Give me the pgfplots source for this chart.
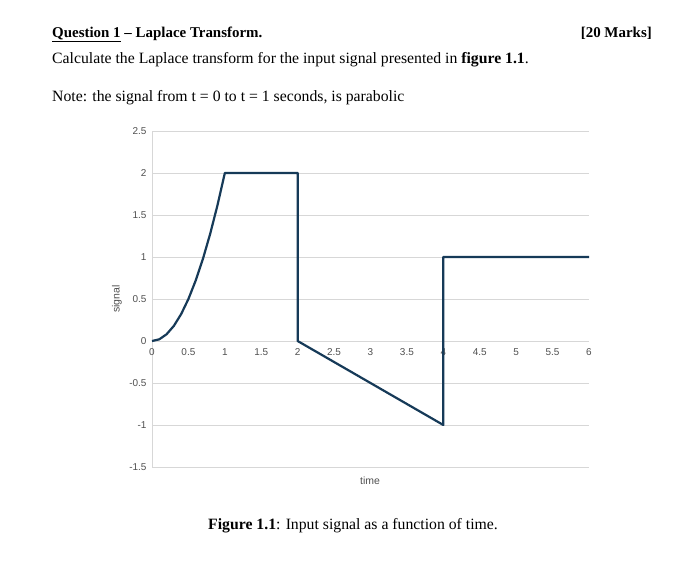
\documentclass[border=0pt]{standalone}
\usepackage{fontspec}
\setmainfont{Liberation Serif}
\newfontfamily\axisfont{Liberation Sans}
\usepackage{pgfplots}
\pgfplotsset{compat=1.18}
\definecolor{sigline}{RGB}{22,58,88}
\definecolor{gridgray}{RGB}{215,215,215}
\definecolor{ticktext}{RGB}{80,80,80}
\begin{document}
\begin{tikzpicture}
\fill[white] (0bp,0bp) rectangle (700bp,-585bp);
% header texts
\node[anchor=base west,inner sep=0pt,font=\fontsize{15}{18}\selectfont\bfseries] at (52bp,-37bp) {\underline{Question 1} -- Laplace Transform.};
\node[anchor=base east,inner sep=0pt,font=\fontsize{15}{18}\selectfont\bfseries] at (652bp,-37bp) {[20 Marks]};
\node[anchor=base west,inner sep=0pt,font=\fontsize{15.8}{19}\selectfont] at (52bp,-63bp) {Calculate the Laplace transform for the input signal presented in \textbf{figure 1.1}.};
\node[anchor=base west,inner sep=0pt,font=\fontsize{15.8}{19}\selectfont] at (52bp,-101bp) {Note: the signal from t = 0 to t = 1 seconds, is parabolic};
\node[anchor=base,inner sep=0pt,font=\fontsize{15.8}{19}\selectfont] at (353bp,-529bp) {\textbf{Figure 1.1}: Input signal as a function of time.};
% axis labels
\node[rotate=90,inner sep=0pt,font=\axisfont\fontsize{10.5}{12}\selectfont,text=ticktext] at (117bp,-299bp) {signal};
\node[inner sep=0pt,font=\axisfont\fontsize{10.5}{12}\selectfont,text=ticktext] at (370bp,-481bp) {time};
\begin{axis}[
  at={(152bp,-467bp)}, anchor=south west,
  scale only axis, width=437bp, height=336bp,
  xmin=0, xmax=6, ymin=-1.5, ymax=2.5,
  axis x line=middle, axis y line=left,
  axis line style={draw=gridgray,line width=0.8bp,-},
  hide obscured x ticks=false, hide obscured y ticks=false,
  xtick={0,0.5,...,6}, ytick={-1.5,-1,...,2.5},
  xticklabels={0,0.5,1,1.5,2,2.5,3,3.5,4,4.5,5,5.5,6},
  yticklabels={-1.5,-1,-0.5,0,0.5,1,1.5,2,2.5},
  major tick length=0pt,
  ymajorgrids, grid style={draw=gridgray,line width=0.8bp},
  tick label style={font=\axisfont\fontsize{10}{12}\selectfont,text=ticktext},
  xticklabel style={yshift=-4bp},
  yticklabel style={xshift=-2bp},
  clip=false,
]
\addplot[sigline,line width=2.2bp,line join=round] coordinates {
 (0,0) (0.1,0.02) (0.2,0.08) (0.3,0.18) (0.4,0.32) (0.5,0.5) (0.6,0.72) (0.7,0.98) (0.8,1.28) (0.9,1.62) (1,2)
 (2,2) (2,0) (4,-1) (4,1) (6,1)
};
\end{axis}
\end{tikzpicture}
\end{document}
